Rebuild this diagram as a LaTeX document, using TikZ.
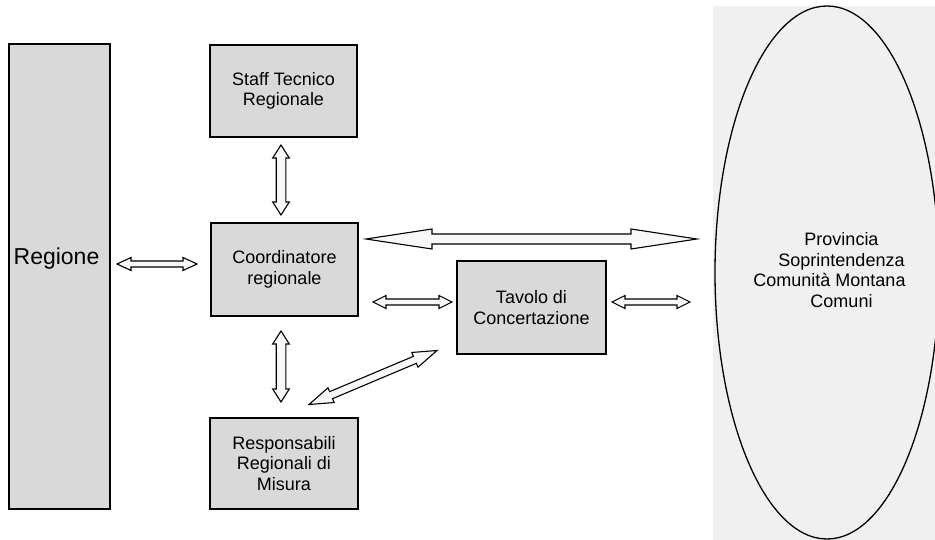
\documentclass[tikz,border=0pt]{standalone}
\usepackage{fontspec}
\setmainfont{Liberation Sans}
\usetikzlibrary{calc,shapes.geometric}
\definecolor{boxgray}{HTML}{D9D9D9}
\definecolor{ellgray}{HTML}{F0F0F0}
\definecolor{arrfill}{HTML}{F8F8F8}
\tikzset{
  box/.style={draw, line width=1.4pt, fill=boxgray, align=center, inner sep=0pt,
    font=\fontsize{18}{20.5}\selectfont},
  blk/.style={draw, line width=1.1pt, fill=arrfill, line join=miter},
  txt/.style={inner sep=0pt, align=center, font=\fontsize{18}{20.5}\selectfont},
}
\newcommand\blockarr[5]{%
  \draw[blk] let \p1=($(#2)-(#1)$), \n1={atan2(\y1,\x1)}, \n2={veclen(\x1,\y1)} in
    [shift={(#1)}, rotate=\n1]
    (0,0) -- (#5,#4) -- (#5,#3) -- ({\n2-#5},#3) -- ({\n2-#5},#4) -- (\n2,0)
    -- ({\n2-#5},-#4) -- ({\n2-#5},-#3) -- (#5,-#3) -- (#5,-#4) -- cycle;}
\begin{document}
\begin{tikzpicture}[x=1pt,y=-1pt]
\useasboundingbox (0,0) rectangle (935,540);
\clip (0,0) rectangle (935,540);
% background of the ellipse area
\fill[ellgray] (713,6) rectangle (935,540);
% nodes
\node[box, minimum width=101pt, minimum height=465pt] (reg) at (59.5,276.5) {};
\node[txt, font=\fontsize{23}{26}\selectfont, anchor=base] (regtxt) at (56.5,264.3) {Regione};
\node[box, minimum width=147pt, minimum height=92pt] (staff) at (283.5,91) {Staff Tecnico\\Regionale};
\node[box, minimum width=147pt, minimum height=93pt] (coord) at (284.5,269.5) {Coordinatore\\regionale};
\node[box, minimum width=148pt, minimum height=91pt] (resp) at (284,463.5) {Responsabili\\Regionali di\\Misura};
\node[box, minimum width=149pt, minimum height=93pt] (tav) at (531.5,307.5) {Tavolo di\\Concertazione};
\node[ellipse, draw, line width=1.3pt, minimum width=224pt, minimum height=533pt, inner sep=0pt] (ell) at (827,272.5) {};
\node[txt] (elltxt) at (841.5,270) {Provincia\\Soprintendenza\\Comunità Montana\rule{24pt}{0pt}\\Comuni};
% arrow end points
\coordinate (a1s) at (281,145);  \coordinate (a1e) at (281,215);
\coordinate (a2s) at (281,331);  \coordinate (a2e) at (281,402);
\coordinate (a3s) at (117,264);  \coordinate (a3e) at (197,264);
\coordinate (a4s) at (373,302);  \coordinate (a4e) at (452,302);
\coordinate (a5s) at (612,302);  \coordinate (a5e) at (690,302);
\coordinate (a6s) at (366,239);  \coordinate (a6e) at (697,239);
\coordinate (a7s) at (309,404.5);\coordinate (a7e) at (437,350.5);
% block double arrows
\blockarr{a1s}{a1e}{4.8}{8.3}{13}
\blockarr{a2s}{a2e}{4.8}{8.3}{13}
\blockarr{a3s}{a3e}{3}{6.5}{14}
\blockarr{a4s}{a4e}{3}{6.5}{13}
\blockarr{a5s}{a5e}{3}{6.5}{13}
\blockarr{a6s}{a6e}{5}{10}{66}
\blockarr{a7s}{a7e}{3.8}{8}{24}
\end{tikzpicture}
\end{document}
